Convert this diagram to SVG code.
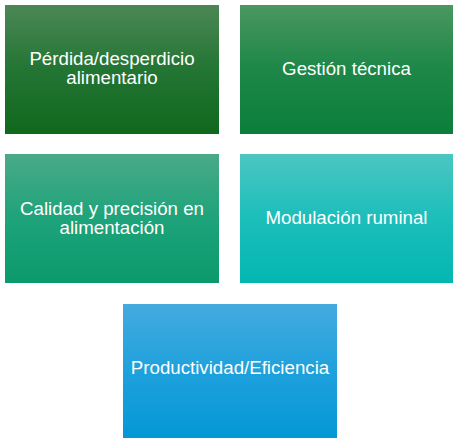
<svg xmlns="http://www.w3.org/2000/svg" width="459" height="438" viewBox="0 0 459 438">
<style>
.lbl{font-family:"Liberation Sans",Arial,sans-serif;font-size:18.7px;fill:#ffffff;text-anchor:middle}
</style>
<defs>
<linearGradient id="g1" x1="0" y1="0" x2="0" y2="1"><stop offset="0" stop-color="#4c8755"/><stop offset="0.5" stop-color="#237534"/><stop offset="1" stop-color="#10681c"/></linearGradient>
<linearGradient id="g2" x1="0" y1="0" x2="0" y2="1"><stop offset="0" stop-color="#4a9761"/><stop offset="0.5" stop-color="#1d8748"/><stop offset="1" stop-color="#0c7e3c"/></linearGradient>
<linearGradient id="g3" x1="0" y1="0" x2="0" y2="1"><stop offset="0" stop-color="#4aaa88"/><stop offset="0.5" stop-color="#1ea37a"/><stop offset="1" stop-color="#0b9a6c"/></linearGradient>
<linearGradient id="g4" x1="0" y1="0" x2="0" y2="1"><stop offset="0" stop-color="#4cc6c2"/><stop offset="0.5" stop-color="#1bbebb"/><stop offset="1" stop-color="#04b6b1"/></linearGradient>
<linearGradient id="g5" x1="0" y1="0" x2="0" y2="1"><stop offset="0" stop-color="#45aae0"/><stop offset="0.5" stop-color="#1ea1dc"/><stop offset="1" stop-color="#0498d6"/></linearGradient>
</defs>
<g id="connectors"></g>
<g id="node1"><rect x="5" y="5" width="214" height="129" fill="url(#g1)"/><text class="lbl" x="112" y="65">Pérdida/desperdicio</text><text class="lbl" x="112" y="84">alimentario</text></g>
<g id="node2"><rect x="240" y="5" width="213" height="129" fill="url(#g2)"/><text class="lbl" x="346.5" y="75">Gestión técnica</text></g>
<g id="node3"><rect x="5" y="154" width="214" height="129" fill="url(#g3)"/><text class="lbl" x="112" y="215">Calidad y precisión en</text><text class="lbl" x="112" y="234">alimentación</text></g>
<g id="node4"><rect x="240" y="154" width="213" height="129" fill="url(#g4)"/><text class="lbl" x="346.5" y="224">Modulación ruminal</text></g>
<g id="node5"><rect x="123" y="304" width="214" height="134" fill="url(#g5)"/><text class="lbl" x="230" y="374">Productividad/Eficiencia</text></g>
</svg>
